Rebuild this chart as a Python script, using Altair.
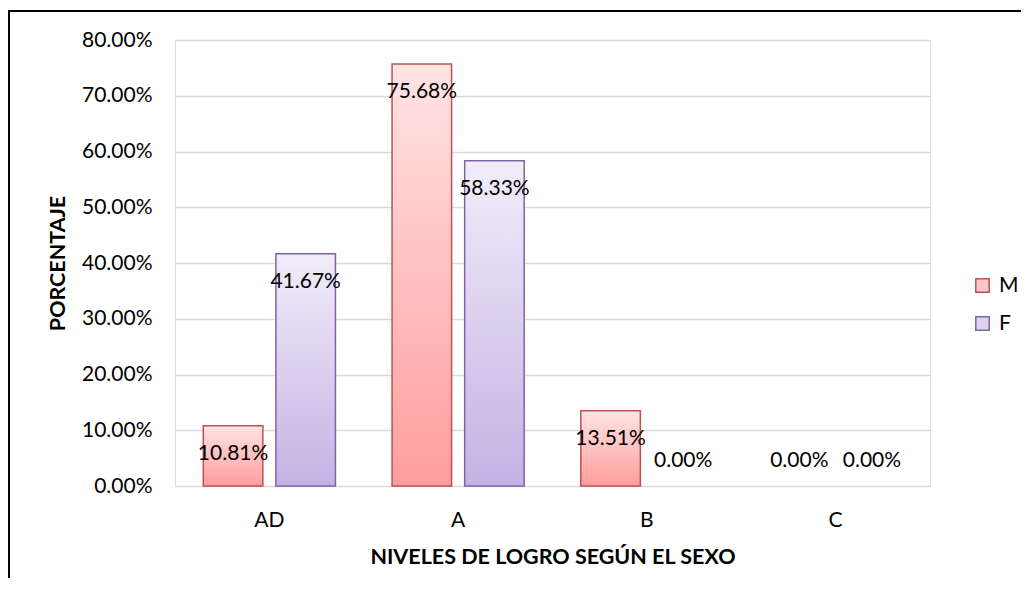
import altair as alt
import pandas as pd

levels = ["AD", "A", "B", "C"]
series = ["M", "F"]
m_values = [10.81, 75.68, 13.51, 0.00]
f_values = [41.67, 58.33, 0.00, 0.00]
y_ticks = [0, 0.1, 0.2, 0.3, 0.4, 0.5, 0.6, 0.7, 0.8]

rows = []
for i, lv in enumerate(levels):
    rows.append({"nivel": lv, "sexo": "M", "pct": m_values[i] / 100})
    rows.append({"nivel": lv, "sexo": "F", "pct": f_values[i] / 100})
df = pd.DataFrame(rows)

FONT = "Lato"
RED = "#C0504D"
PURPLE = "#8064A2"
FS = 21

grad_m = alt.LinearGradient(
    gradient="linear", x1=0, y1=0, x2=0, y2=1,
    stops=[alt.GradientStop(color="#FFE4E4", offset=0),
           alt.GradientStop(color="#FF9D9D", offset=1)])
grad_f = alt.LinearGradient(
    gradient="linear", x1=0, y1=0, x2=0, y2=1,
    stops=[alt.GradientStop(color="#F1EDFA", offset=0),
           alt.GradientStop(color="#C3B2E4", offset=1)])

x_enc = alt.X("nivel:N", sort=levels,
              scale=alt.Scale(paddingInner=0.3, paddingOuter=0.15),
              axis=alt.Axis(title="NIVELES DE LOGRO SEGÚN EL SEXO", labelAngle=0,
                            ticks=False, domain=False, labelPadding=23,
                            titlePadding=16, labelFontSize=FS, titleFontSize=21.5,
                            labelFont=FONT, titleFont=FONT, labelColor="#000",
                            titleColor="#000", titleFontWeight="bold"))
xo_enc = alt.XOffset("sexo:N", sort=series,
                     scale=alt.Scale(paddingInner=0.18, paddingOuter=0))
y_enc = alt.Y("pct:Q", scale=alt.Scale(domain=[0, 0.8], nice=False),
              axis=alt.Axis(title="PORCENTAJE", format=".2%", values=y_ticks,
                            grid=True, gridColor="#D9D9D9", gridWidth=1.5,
                            domain=False, ticks=False, labelPadding=23,
                            titlePadding=12, labelFontSize=FS, titleFontSize=21.5,
                            labelFont=FONT, titleFont=FONT, labelColor="#000",
                            titleColor="#000", titleFontWeight="bold"))

base = alt.Chart(df).encode(x=x_enc, xOffset=xo_enc, y=y_enc)

bars_m = base.transform_filter((alt.datum.sexo == "M") & (alt.datum.pct > 0)).mark_bar(
    fill=grad_m, stroke=RED, strokeWidth=1.5)
bars_f = base.transform_filter((alt.datum.sexo == "F") & (alt.datum.pct > 0)).mark_bar(
    fill=grad_f, stroke=PURPLE, strokeWidth=1.5)

labels_pos = base.transform_filter(alt.datum.pct > 0).mark_text(
    dy=28, fontSize=FS, font=FONT, color="#000").encode(
    text=alt.Text("pct:Q", format=".2%"))
labels_zero = base.transform_filter(alt.datum.pct <= 0).mark_text(
    dy=-25, fontSize=FS, font=FONT, color="#000").encode(
    text=alt.Text("pct:Q", format=".2%"))

leg = alt.Legend(title=None, orient="none", legendX=797, legendY=235,
                 symbolType="square", symbolSize=180, symbolStrokeWidth=1.5,
                 symbolOpacity=1, labelFontSize=FS, labelFont=FONT,
                 labelColor="#000", rowPadding=16, labelOffset=6)

legend_layer = base.mark_square(opacity=0).encode(
    fill=alt.Fill("sexo:N", sort=series,
                  scale=alt.Scale(domain=series, range=["#FFC6C6", "#DDD3F1"]),
                  legend=leg),
    stroke=alt.Stroke("sexo:N", sort=series,
                      scale=alt.Scale(domain=series, range=[RED, PURPLE]),
                      legend=leg))

border_top = alt.Chart(df).mark_rule(color="#000", strokeWidth=2).encode(
    x=alt.value(-167), x2=alt.value(900), y=alt.value(-29))
border_left = alt.Chart(df).mark_rule(color="#000", strokeWidth=2).encode(
    x=alt.value(-166), y=alt.value(-30), y2=alt.value(600))

chart = alt.layer(
    bars_m, bars_f, labels_pos, labels_zero, legend_layer, border_top, border_left
).properties(
    width=755, height=446,
    autosize=alt.AutoSizeParams(type="none"),
    padding={"left": 167, "top": 32, "right": 91, "bottom": 92},
).configure_view(stroke=None).configure(background="white")

chart.save("out.html", embed_options={"renderer": "svg", "actions": False})
